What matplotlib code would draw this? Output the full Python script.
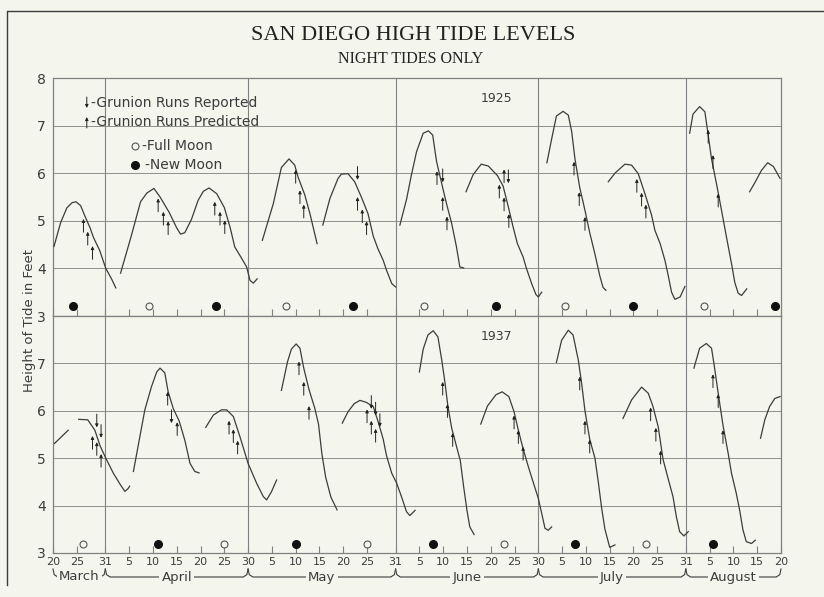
import matplotlib
matplotlib.use('Agg')
import matplotlib.pyplot as plt
from matplotlib import transforms
from matplotlib.lines import Line2D

# x values are day of year (Mar 20 = 79, Aug 20 = 232), y values are feet
tide_1925 = [
    [(79.2, 4.46), (80.6, 4.96), (81.9, 5.27), (83.0, 5.38), (83.8, 5.40), (84.8, 5.32), (85.7, 5.10),
     (86.8, 4.85), (87.5, 4.65), (88.8, 4.38), (90.1, 4.00), (91.3, 3.78), (92.2, 3.59)],
    [(93.2, 3.90), (95.5, 4.70), (97.4, 5.40), (98.7, 5.58), (100.2, 5.68), (101.5, 5.50), (103.4, 5.18),
     (105.0, 4.85), (105.8, 4.72), (106.7, 4.75), (108.1, 5.03), (109.5, 5.43), (110.6, 5.62), (111.8, 5.69),
     (113.4, 5.57), (115.0, 5.28), (116.2, 4.87), (117.2, 4.45), (118.3, 4.27), (119.7, 4.03), (120.4, 3.75),
     (121.1, 3.69), (121.9, 3.78)],
    [(123.0, 4.59), (125.3, 5.36), (127.0, 6.12), (128.6, 6.30), (129.8, 6.17), (130.5, 5.92), (131.9, 5.55),
     (133.0, 5.15), (134.5, 4.52)],
    [(135.7, 4.91), (137.2, 5.47), (138.9, 5.89), (139.6, 5.98), (141.0, 5.99), (142.4, 5.82), (143.8, 5.50),
     (145.2, 5.15), (146.3, 4.68), (147.3, 4.41), (148.4, 4.17), (149.1, 3.96), (150.2, 3.68), (151.0, 3.61)],
    [(151.9, 4.91), (153.3, 5.45), (154.3, 5.95), (155.4, 6.45), (156.8, 6.84), (157.9, 6.89), (158.8, 6.80),
     (159.6, 6.25), (160.7, 5.78), (161.7, 5.36), (162.8, 4.94), (163.8, 4.45), (164.5, 4.03), (165.3, 4.01)],
    [(165.8, 5.61), (167.3, 5.97), (169.0, 6.19), (170.5, 6.15), (172.4, 5.95), (173.6, 5.73), (174.7, 5.29),
     (175.7, 4.87), (176.6, 4.52), (177.8, 4.24), (178.5, 4.00), (179.6, 3.68), (180.5, 3.45), (181.0, 3.40),
     (181.7, 3.50)],
    [(182.8, 6.22), (183.8, 6.72), (184.8, 7.20), (186.2, 7.30), (187.3, 7.22), (188.0, 6.88), (188.7, 6.30),
     (189.7, 5.70), (190.8, 5.22), (191.8, 4.75), (192.9, 4.30), (193.9, 3.85), (194.6, 3.60), (195.2, 3.54)],
    [(195.7, 5.82), (197.1, 6.00), (199.2, 6.19), (200.6, 6.17), (202.0, 5.99), (203.4, 5.57), (204.8, 5.12),
     (205.5, 4.80), (206.6, 4.52), (207.6, 4.17), (208.3, 3.85), (209.0, 3.50), (209.7, 3.35), (210.8, 3.40),
     (211.8, 3.62)],
    [(212.8, 6.84), (213.5, 7.24), (214.9, 7.40), (216.0, 7.29), (216.7, 6.80), (217.4, 6.30), (218.4, 5.80),
     (219.5, 5.22), (220.5, 4.68), (221.6, 4.10), (222.3, 3.70), (223.0, 3.48), (223.7, 3.43), (224.8, 3.57)],
    [(225.4, 5.61), (226.5, 5.80), (227.9, 6.06), (229.2, 6.22), (230.4, 6.14), (231.8, 5.89)],
]

tide_1937 = [
    [(79.3, 5.31), (82.2, 5.59)],
    [(84.4, 5.82), (86.3, 5.81), (87.8, 5.59), (88.9, 5.26), (90.1, 5.00), (91.7, 4.68), (93.1, 4.45),
     (94.1, 4.30), (94.8, 4.36), (95.1, 4.41)],
    [(95.9, 4.72), (98.3, 6.02), (99.7, 6.51), (100.8, 6.82), (101.5, 6.90), (102.5, 6.80), (103.2, 6.40),
     (104.3, 6.04), (105.5, 5.79), (106.7, 5.38), (107.8, 4.89), (108.8, 4.72), (109.7, 4.69)],
    [(111.1, 5.65), (112.7, 5.91), (114.4, 6.02), (115.5, 6.02), (116.9, 5.88), (118.3, 5.45), (120.0, 4.89),
     (121.8, 4.47), (123.2, 4.19), (123.9, 4.12), (124.9, 4.29), (126.0, 4.54)],
    [(127.0, 6.43), (128.3, 7.04), (129.1, 7.30), (130.1, 7.41), (130.9, 7.32), (131.7, 6.90), (132.8, 6.45),
     (134.0, 6.06), (134.8, 5.72), (135.5, 5.10), (136.3, 4.60), (137.4, 4.18), (138.7, 3.91)],
    [(139.8, 5.74), (141.0, 5.98), (142.3, 6.15), (143.5, 6.22), (144.8, 6.18), (146.3, 6.09), (147.3, 5.78),
     (148.4, 5.40), (149.1, 5.05), (150.2, 4.68), (151.2, 4.48), (152.3, 4.17), (153.3, 3.87), (154.0, 3.79),
     (155.1, 3.90)],
    [(156.0, 6.82), (156.8, 7.30), (157.8, 7.60), (158.9, 7.69), (159.9, 7.56), (160.7, 7.07), (161.4, 6.58),
     (162.0, 6.09), (162.8, 5.63), (163.8, 5.25), (164.6, 4.95), (165.3, 4.40), (166.0, 3.90), (166.6, 3.55),
     (167.5, 3.39)],
    [(168.9, 5.72), (170.3, 6.10), (172.1, 6.34), (173.4, 6.40), (174.8, 6.30), (175.9, 5.98), (176.8, 5.59),
     (177.8, 5.20), (178.9, 4.82), (179.9, 4.50), (181.0, 4.15), (181.7, 3.84), (182.4, 3.52), (183.1, 3.48),
     (183.8, 3.55)],
    [(184.8, 7.02), (185.9, 7.49), (187.3, 7.70), (188.3, 7.60), (189.4, 7.07), (190.1, 6.58), (190.8, 6.00),
     (191.8, 5.40), (192.9, 5.00), (193.6, 4.50), (194.3, 3.95), (195.0, 3.50), (196.0, 3.12), (197.1, 3.17)],
    [(198.8, 5.84), (200.6, 6.23), (202.7, 6.50), (204.1, 6.37), (205.1, 6.09), (206.2, 5.66), (207.2, 4.98),
     (208.3, 4.56), (209.3, 4.19), (210.0, 3.77), (210.7, 3.45), (211.6, 3.36), (212.5, 3.45)],
    [(213.7, 6.90), (214.9, 7.32), (216.3, 7.42), (217.4, 7.32), (217.9, 7.00), (218.8, 6.37), (219.8, 5.70),
     (220.9, 5.10), (221.6, 4.68), (222.6, 4.26), (223.3, 3.91), (224.0, 3.49), (224.7, 3.24), (225.8, 3.20),
     (226.6, 3.27)],
    [(227.7, 5.42), (228.6, 5.81), (229.6, 6.09), (230.7, 6.26), (231.8, 6.30)],
]

# grunion runs: (day, height, 'up' = predicted, 'down' = reported)
runs_1925 = [
    (85.4, 4.90, 'up'), (86.3, 4.63, 'up'), (87.3, 4.33, 'up'),
    (101.1, 5.33, 'up'), (102.2, 5.05, 'up'), (103.2, 4.85, 'up'),
    (113.0, 5.26, 'up'), (114.1, 5.05, 'up'), (115.1, 4.87, 'up'),
    (130.0, 5.93, 'up'), (130.9, 5.50, 'up'), (131.7, 5.20, 'up'),
    (143.0, 6.00, 'down'), (143.0, 5.36, 'up'), (144.0, 5.10, 'up'), (144.9, 4.85, 'up'),
    (159.7, 5.90, 'up'), (160.9, 5.95, 'down'), (160.9, 5.36, 'up'), (161.8, 4.95, 'up'),
    (172.8, 5.62, 'up'), (173.8, 5.94, 'up'), (174.7, 5.93, 'down'), (173.8, 5.35, 'up'), (174.8, 5.00, 'up'),
    (188.5, 6.10, 'up'), (189.6, 5.46, 'up'), (190.8, 4.94, 'up'),
    (201.7, 5.74, 'up'), (202.7, 5.45, 'up'), (203.6, 5.20, 'up'),
    (216.7, 6.77, 'up'), (217.7, 6.24, 'up'), (218.8, 5.43, 'up'),
]
runs_1937 = [
    (87.3, 5.33, 'up'), (88.2, 5.79, 'down'), (88.2, 5.20, 'up'), (89.1, 5.57, 'down'), (89.1, 4.95, 'up'),
    (103.1, 6.26, 'up'), (103.9, 5.88, 'down'), (105.1, 5.62, 'up'),
    (116.0, 5.65, 'up'), (116.9, 5.47, 'up'), (117.8, 5.23, 'up'),
    (130.7, 6.90, 'up'), (131.7, 6.47, 'up'), (132.8, 5.96, 'up'),
    (145.0, 5.89, 'up'), (145.9, 6.18, 'down'), (145.9, 5.65, 'up'), (146.8, 6.04, 'down'),
    (146.8, 5.48, 'up'), (147.7, 5.80, 'down'),
    (160.9, 6.47, 'up'), (161.9, 6.00, 'up'), (163.0, 5.39, 'up'),
    (175.9, 5.76, 'up'), (176.8, 5.45, 'up'), (177.8, 5.10, 'up'),
    (189.7, 6.58, 'up'), (190.8, 5.65, 'up'), (191.8, 5.25, 'up'),
    (204.6, 5.93, 'up'), (205.7, 5.50, 'up'), (206.7, 5.02, 'up'),
    (217.7, 6.63, 'up'), (218.8, 6.21, 'up'), (219.8, 5.45, 'up'),
]

full_moon_1925 = [99.2, 128.0, 156.9, 186.7, 215.8]
new_moon_1925 = [83.3, 113.2, 142.0, 172.0, 200.8, 230.8]
full_moon_1937 = [85.2, 115.0, 144.9, 173.8, 203.7]
new_moon_1937 = [101.1, 130.0, 158.9, 188.7, 217.7]

tick_days = [79, 84, 90, 95, 100, 105, 110, 115, 120, 125, 130, 135, 140, 145, 151, 156, 161, 166,
             171, 176, 181, 186, 191, 196, 201, 206, 212, 217, 222, 227, 232]
tick_labels = ['20', '25', '31', '5', '10', '15', '20', '25', '30', '5', '10', '15', '20', '25', '31',
               '5', '10', '15', '20', '25', '30', '5', '10', '15', '20', '25', '31', '5', '10', '15', '20']
months = ['March', 'April', 'May', 'June', 'July', 'August']
month_edges = [79, 90, 120, 151, 181, 212, 232]

BG = '#f4f5ed'
INK = '#3c3c3c'
GRID = '#808080'

plt.rcParams['font.family'] = 'DejaVu Sans'

W, H = 824, 597
fig = plt.figure(figsize=(W / 100, H / 100), dpi=100)
fig.patch.set_facecolor(BG)

left, right = 53 / W, 781 / W
top_px, mid_px, bot_px = 78, 316, 553
ax1 = fig.add_axes([left, 1 - mid_px / H, right - left, (mid_px - top_px) / H])
ax2 = fig.add_axes([left, 1 - bot_px / H, right - left, (bot_px - mid_px) / H])


def draw_panel(ax, segments, runs, full, new, moon_y, year):
    ax.set_facecolor(BG)
    ax.set_xlim(79, 232)
    ax.set_ylim(3, 8)
    for s in ax.spines.values():
        s.set_color(GRID)
        s.set_linewidth(0.9)
    for y in [4, 5, 6, 7]:
        ax.axhline(y, color=GRID, lw=0.6, zorder=1)
    for d in month_edges[1:-1]:
        ax.axvline(d, color=GRID, lw=0.8, zorder=1)
    for seg in segments:
        xs = [p[0] for p in seg]
        ys = [p[1] for p in seg]
        ax.plot(xs, ys, color=INK, lw=0.9, zorder=3, solid_joinstyle='round')
    for d, h, kind in runs:
        lo, hi = h - 0.14, h + 0.14
        start, end = ((d, lo), (d, hi)) if kind == 'up' else ((d, hi), (d, lo))
        ax.annotate('', xy=end, xytext=start,
                    arrowprops=dict(arrowstyle='-|>', color='#222222', lw=0.7,
                                    mutation_scale=4.5, shrinkA=0, shrinkB=0), zorder=4)
    ax.plot(full, [moon_y] * len(full), 'o', ms=5, mfc=BG, mec='#555555', mew=0.8, zorder=4)
    ax.plot(new, [moon_y] * len(new), 'o', ms=5.5, mfc='#111111', mec='#111111', zorder=4)
    ax.text(172.1, 7.57, year, ha='center', va='center', fontsize=9, color=INK)
    ax.set_xticks(tick_days)
    ax.tick_params(axis='x', direction='in', length=5, width=0.8, color=GRID)
    ax.tick_params(axis='y', length=0, pad=5, labelsize=10, labelcolor=INK)


draw_panel(ax1, tide_1925, runs_1925, full_moon_1925, new_moon_1925, 3.21, '1925')
draw_panel(ax2, tide_1937, runs_1937, full_moon_1937, new_moon_1937, 3.19, '1937')

ax1.set_yticks([3, 4, 5, 6, 7, 8])
ax1.tick_params(axis='x', labelbottom=False)
ax2.set_yticks([3, 4, 5, 6, 7])
ax2.set_xticklabels(tick_labels, fontsize=8, color=INK)
ax2.tick_params(axis='x', pad=3)

# key in the upper panel
ax1.annotate('', xy=(86.1, 7.37), xytext=(86.1, 7.60),
             arrowprops=dict(arrowstyle='-|>', color='#222222', lw=0.7, mutation_scale=4.5,
                             shrinkA=0, shrinkB=0))
ax1.annotate('', xy=(86.1, 7.18), xytext=(86.1, 6.95),
             arrowprops=dict(arrowstyle='-|>', color='#222222', lw=0.7, mutation_scale=4.5,
                             shrinkA=0, shrinkB=0))
ax1.text(87.0, 7.47, '-Grunion Runs Reported', va='center', fontsize=10, color=INK)
ax1.text(87.0, 7.07, '-Grunion Runs Predicted', va='center', fontsize=10, color=INK)
ax1.plot([96.2], [6.57], 'o', ms=5, mfc=BG, mec='#555555', mew=0.8)
ax1.plot([96.2], [6.17], 'o', ms=5.5, mfc='#111111', mec='#111111')
ax1.text(97.6, 6.57, '-Full Moon', va='center', fontsize=10, color=INK)
ax1.text(98.4, 6.17, '-New Moon', va='center', fontsize=10, color=INK)

# month braces under the axis
trans = transforms.blended_transform_factory(ax2.transData, fig.transFigure)
y_line = 1 - 577 / H
y_hook = 1 - 569 / H
for name, a, b in zip(months, month_edges[:-1], month_edges[1:]):
    xs = [a, a + 0.25, a + 1.0, b - 1.0, b - 0.25, b]
    ys = [y_hook, y_line + 0.004, y_line, y_line, y_line + 0.004, y_hook]
    fig.add_artist(Line2D(xs, ys, transform=trans, color=INK, lw=0.8))
    fig.text((a + b) / 2, y_line, name, transform=trans, ha='center', va='center', fontsize=9.5,
             color=INK, bbox=dict(facecolor=BG, edgecolor='none', pad=1.5))

fig.text(30 / W, 1 - 320 / H, 'Height of Tide in Feet', rotation=90, ha='center', va='center',
         fontsize=9.5, color=INK)

fig.text(413 / W, 1 - 35 / H, 'SAN DIEGO HIGH TIDE LEVELS', ha='center', va='center',
         fontsize=16, family='Liberation Serif', color='#222222')
fig.text(411 / W, 1 - 59 / H, 'NIGHT TIDES ONLY', ha='center', va='center',
         fontsize=11.5, family='Liberation Serif', color='#222222')

# outer frame
fig.add_artist(Line2D([8 / W, 1], [1 - 10.5 / H, 1 - 10.5 / H], transform=fig.transFigure, color=INK, lw=1.0))
fig.add_artist(Line2D([7.5 / W, 7.5 / W], [1 - 10.5 / H, 1 - 585 / H], transform=fig.transFigure, color=INK, lw=1.0))

fig.savefig('out.png', dpi=100, facecolor=BG)
